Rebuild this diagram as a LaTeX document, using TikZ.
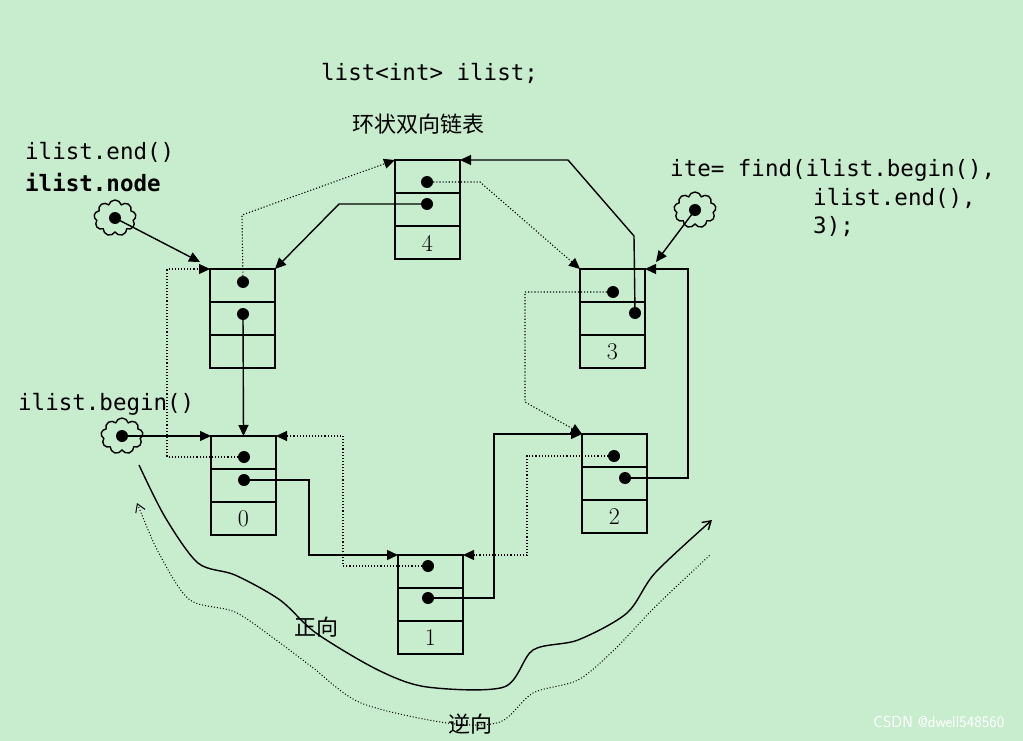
\documentclass[tikz,border=0pt]{standalone}
\usepackage{fontspec}
\setmonofont{DejaVu Sans Mono}
\newfontfamily\cjk{Noto Sans CJK SC}
\usetikzlibrary{arrows.meta,shapes.symbols}
\definecolor{bg}{RGB}{199,236,206}
\tikzset{>={Triangle[width=10pt,length=11pt]},
  cell/.style={draw,line width=1.6pt,rectangle,minimum width=65pt,minimum height=99pt,anchor=north west,outer sep=0pt},
  dot/.style={circle,fill,inner sep=0pt,minimum size=12pt},
  nxt/.style={line width=1.4pt,->},
  prv/.style={line width=1.1pt,dotted,->},
  iter/.style={draw,line width=1.4pt,cloud,cloud puffs=9,aspect=1.2,minimum width=42pt,minimum height=36pt},
  code/.style={font=\ttfamily\fontsize{22.5}{26}\selectfont,inner sep=0pt,anchor=west}}
\newcommand{\listbox}[6]{%
  \node[cell] (#1) at (#2,#3) {};
  \draw[line width=1.6pt] (#2,#3+33) -- ++(65,0) (#2,#3+66) -- ++(65,0);
  \node at (#2+32.5,#3+83) {\fontsize{24}{26}\selectfont #4};
  \node[dot] (#1p) at (#5) {};
  \node[dot] (#1n) at (#6) {};}
\begin{document}
\begin{tikzpicture}[x=1pt,y=-1pt]
  \fill[bg] (0,0) rectangle (1023,741);
  \useasboundingbox (0,0) rectangle (1023,741);

  % the ring of list nodes
  \listbox{nE}{210}{269}{}{243,282}{243,314}
  \listbox{n4}{395}{160}{4}{427,182}{427,204}
  \listbox{n3}{580}{269}{3}{613,292}{635,313}
  \listbox{n2}{582}{434}{2}{614,456}{625,478}
  \listbox{n0}{211}{436}{0}{244,457}{244,480}
  \listbox{n1}{398}{555}{1}{428,566}{428,598}

  % next pointers
  \draw[nxt] (nEn.center) -- (n0.north);
  \draw[nxt] (n0n.center) -| (309,555) -- (n1.north west);
  \draw[nxt] (n1n.center) -| (494,434) -- (n2.north west);
  \draw[nxt] (n2n.center) -| (688,269) -- (n3.north east);
  \draw[nxt] (n3n.center) -- (634,236) -- (568,160) -- (n4.north east);
  \draw[nxt] (n4n.center) -- (339,204) -- (nE.north east);

  % prev pointers
  \draw[prv] (nEp.center) -- (242,215) -- (n4.north west);
  \draw[prv] (n4p.center) -- (480,182) -- (n3.north west);
  \draw[prv] (n3p.center) -- (525,292) -- (525,402) -- (n2.north west);
  \draw[prv] (n2p.center) -| (527,555) -- (n1.north east);
  \draw[prv] (n1p.center) -| (343,436) -- (n0.north east);
  \draw[prv] (n0p.center) -| (167,269) -- (nE.north west);

  % iterators
  \node[iter] (cEnd) at (115,218) {};
  \node[dot] (dEnd) at (115,218) {};
  \node[iter] (cBeg) at (122,436) {};
  \node[dot] (dBeg) at (122,436) {};
  \node[iter] (cIte) at (695,210) {};
  \node[dot] (dIte) at (695,210) {};
  \draw[nxt] (dEnd.center) -- (200,262);
  \draw[nxt] (dBeg.center) -- (n0.north west);
  \draw[nxt] (dIte.center) -- (656,262);

  % texts
  \node[code] (tDecl) at (321,73) {list<int> ilist;};
  \node[anchor=west,inner sep=0pt] (tRing) at (352,124) {\cjk\fontsize{22}{24}\selectfont 环状双向链表};
  \node[code] (tEnd) at (25,152) {ilist.end()};
  \node[code,font=\ttfamily\bfseries\fontsize{22.5}{26}\selectfont] (tNode) at (25,183) {ilist.node};
  \node[code] (tBeg) at (18,404) {ilist.begin()};
  \node[code] (tIte1) at (670,170) {ite= find(ilist.begin(),};
  \node[code] (tIte2) at (813,198) {ilist.end(),};
  \node[code] (tIte3) at (813,227) {3);};

  % directions
  \draw[line width=1.4pt,-{Straight Barb[length=8pt,width=10pt]}] plot[smooth,tension=0.5] coordinates {(139,465) (165,517) (198,563) (235,575) (280,600) (316,633) (378,670) (427,687) (504,687) (533,650) (578,640) (627,613) (655,573) (712,520)};
  \draw[line width=1pt,dotted,{Straight Barb[length=8pt,width=10pt]}-] plot[smooth,tension=0.5] coordinates {(137,503) (161,557) (190,600) (235,612) (276,640) (312,667) (361,703) (447,723) (500,722) (533,693) (578,680) (614,650) (655,607) (710,555)};
  \node (tFwd) at (316,627) {\cjk\fontsize{22}{24}\selectfont 正向};
  \node (tBwd) at (470,724) {\cjk\fontsize{22}{24}\selectfont 逆向};
  \node[anchor=east,text=white] (tMark) at (1008,722) {\fontsize{16}{18}\selectfont\sffamily CSDN @dwell548560};
\end{tikzpicture}
\end{document}
